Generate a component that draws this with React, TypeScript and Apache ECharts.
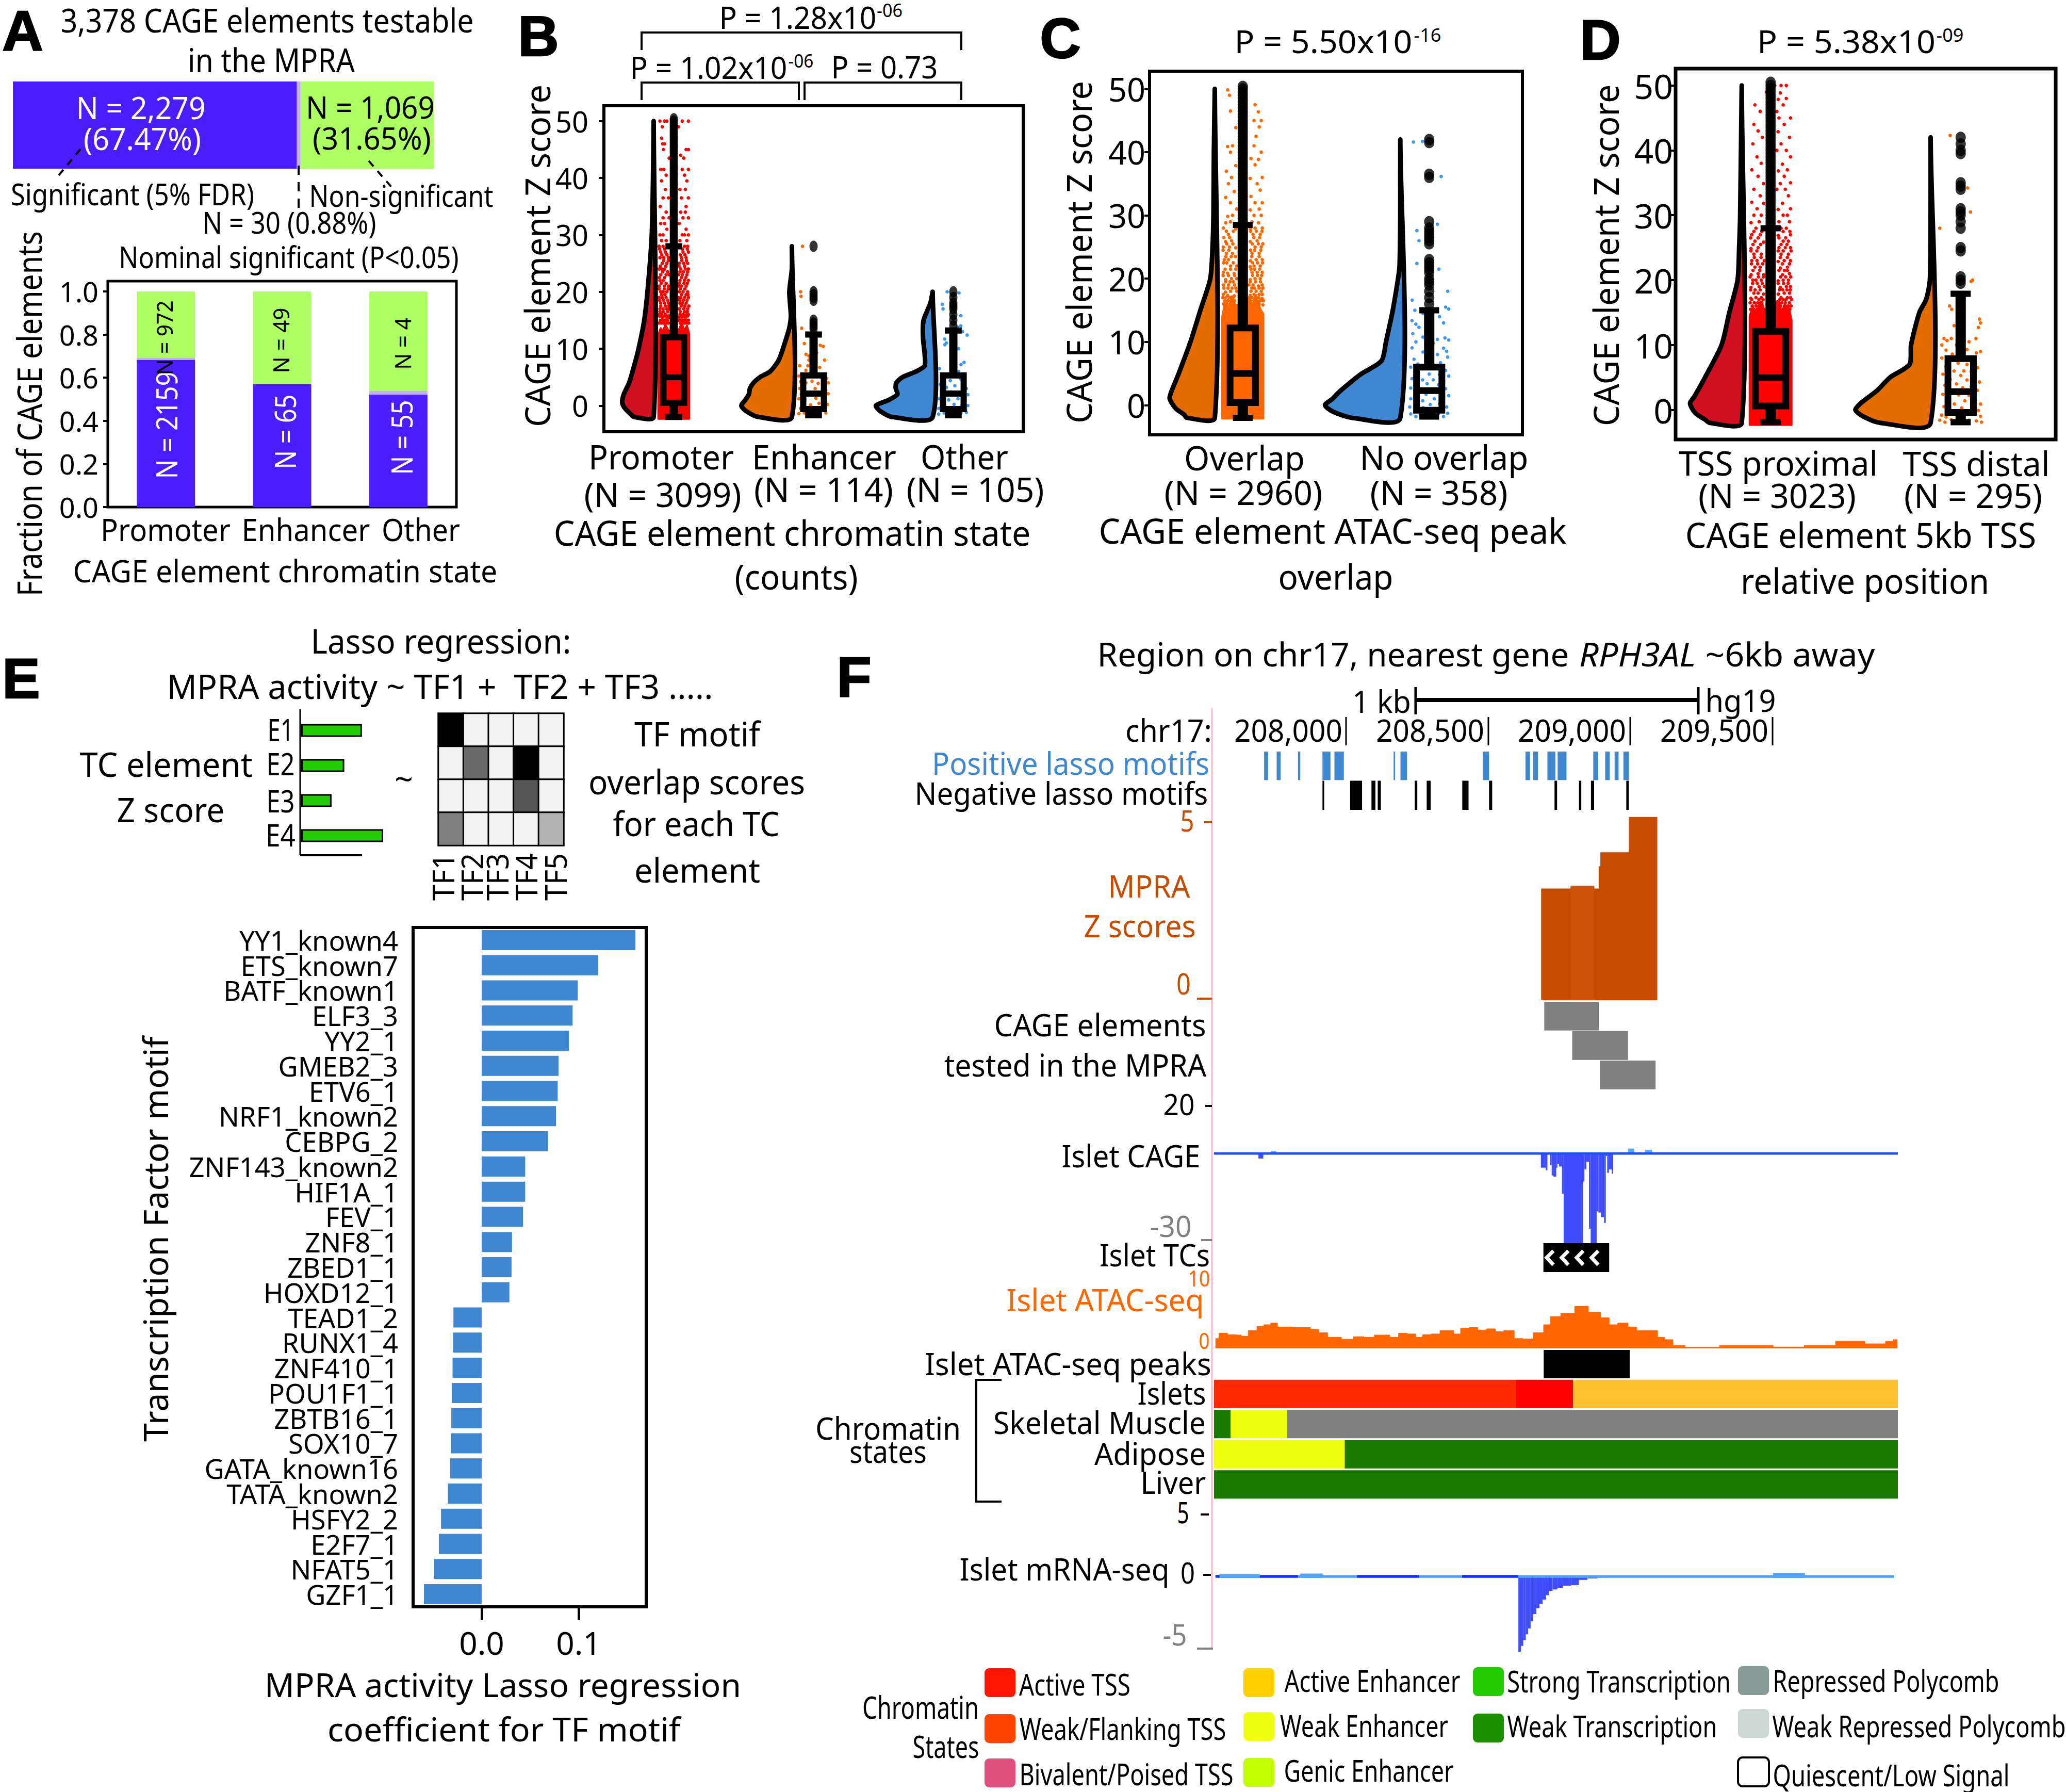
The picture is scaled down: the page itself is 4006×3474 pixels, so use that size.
import React, { useEffect, useRef } from "react";
import * as echarts from "echarts";

// ---------- data: panel A
const mpraTotals = [2279, 30, 1069];
const chromatinShort = ["Promoter", "Enhancer", "Other"];
const sigFraction = [0.683, 0.57, 0.522];
const nominalFraction = [0.01, 0.002, 0.018];
const nonSigFraction = [0.307, 0.428, 0.46];
const sigCounts = [2159, 65, 55];
const nonSigCounts = [972, 49, 4];
const fractionTicks = [0, 0.2, 0.4, 0.6, 0.8, 1];

// ---------- data: panels B, C, D
const zTicks = [0, 10, 20, 30, 40, 50];
const violinPromoter = [[50, 0], [40, 0.02], [30, 0.06], [21, 0.18], [15, 0.3], [10, 0.48], [7, 0.62], [4, 0.78], [2, 0.95], [0.5, 1], [-0.5, 0.91], [-1.5, 0.73], [-2, 0.62]];
const violinEnhancer = [[28, 0], [24, 0], [20, 0.05], [15.8, 0.02], [13.7, 0.05], [11, 0.14], [8, 0.26], [6, 0.43], [5, 0.63], [4, 0.76], [3, 0.83], [2, 0.85], [1, 0.92], [0, 1], [-1, 0.9], [-2, 0.66]];
const violinOther = [[20, 0], [18, 0.04], [15, 0.16], [12, 0.17], [9, 0.14], [7, 0.14], [6, 0.29], [5, 0.53], [4, 0.64], [3, 0.65], [2, 0.62], [1, 0.77], [0, 1], [-1, 0.92], [-2, 0.71]];
const violinOverlap = [[50, 0], [40, 0.02], [30, 0.03], [25, 0.05], [20, 0.1], [15, 0.32], [10, 0.54], [5, 0.8], [2, 0.97], [1, 1], [-0.5, 0.87], [-1.5, 0.68], [-2, 0.62]];
const violinNoOverlap = [[42, 0], [30, 0], [22, 0.01], [20, 0.03], [15, 0.1], [10, 0.19], [7, 0.25], [5, 0.51], [4, 0.62], [2, 0.82], [1, 0.9], [0, 1], [-1, 0.9], [-2, 0.64]];
const violinProximal = [[50, 0], [30, 0.03], [25, 0.05], [20, 0.08], [15, 0.24], [10, 0.39], [5, 0.71], [2, 0.92], [1, 1], [-0.5, 0.9], [-1.5, 0.71], [-2, 0.62]];
const violinDistal = [[42, 0], [30, 0], [20, 0.01], [17, 0.06], [15, 0.15], [10, 0.26], [7, 0.28], [5, 0.54], [3, 0.71], [1, 0.93], [0, 1], [-1, 0.9], [-2, 0.67]];

// [category, min, q1, median, q3, max]
const boxesB = [[0, -2, 0.5, 5, 12, 28], [1, -1.7, -0.6, 2.1, 5.3, 12.5], [2, -1.7, -0.6, 2.1, 5.3, 13.2]];
const boxesC = [[0, -2, 0.4, 5, 12.2, 28.5], [1, -1.8, -0.8, 2.3, 6, 15]];
const boxesD = [[0, -1.9, 0.6, 5, 12.1, 28], [1, -1.9, -0.4, 2.8, 7.9, 17.9]];

const outPromoter = [28, 28.5, 29, 29.5, 30, 30.5, 31, 31.5, 32, 32.5, 33, 33.5, 34, 34.5, 35, 35.5, 36, 36.5, 37, 37.5, 38, 38.5, 39, 39.5, 40, 40.5, 41, 41.5, 42, 42.5, 43, 43.5, 44, 44.5, 45, 45.5, 46, 46.5, 47, 47.5, 48, 48.5, 49, 49.5, 50, 50.4];
const outEnhancer = [28, 20, 19.5, 19, 18.5, 15, 14.5, 14, 13.5];
const outOther = [20, 19, 18, 17.5, 17, 16, 15, 14];
const outOverlap = [29, 29.5, 30, 30.5, 31, 31.5, 32, 32.5, 33, 33.5, 34, 34.5, 35, 35.5, 36, 36.5, 37, 37.5, 38, 38.5, 39, 39.5, 40, 40.5, 41, 41.5, 42, 42.5, 43, 43.5, 44, 44.5, 45, 45.5, 46, 46.5, 47, 47.5, 48, 48.5, 49, 49.5, 50, 50.4];
const outNoOverlap = [42, 41.5, 36.5, 36, 29, 28, 27.5, 27, 26.5, 26, 25.5, 23, 22.5, 22, 21.5, 21, 20, 19.5, 19, 18, 17, 16];
const outProximal = [28.5, 29, 29.5, 30, 30.5, 31, 31.5, 32, 32.5, 33, 33.5, 34, 34.5, 35, 35.5, 36, 36.5, 37, 37.5, 38, 38.5, 39, 39.5, 40, 40.5, 41, 41.5, 42, 42.5, 43, 43.5, 44, 44.5, 45, 45.5, 46, 46.5, 47, 47.5, 48, 48.5, 49, 49.5, 50, 50.5];
const outDistal = [42, 41, 40, 39.5, 35, 34.5, 34, 31, 30.5, 30, 29, 28, 25, 24.5, 20.5, 20, 19.5];

// dense lower part of each jitter cloud: bottom z, then the irregular top edge as [offset, z]
const densePromoterLow = -2.3;
const densePromoterTop = [[-1, 12.5], [-0.85, 13.6], [-0.7, 13], [-0.55, 14.2], [-0.35, 13.2], [0, 13], [0.35, 13.4], [0.5, 14.5], [0.7, 13.2], [0.85, 14], [1, 12.6]];
const denseOverlapLow = -2.1;
const denseOverlapTop = [[-1, 14], [-0.85, 16.5], [-0.7, 15], [-0.55, 17.2], [-0.35, 15.8], [0, 16], [0.3, 17], [0.5, 15.4], [0.65, 17.4], [0.85, 15.2], [1, 14.4]];
const denseProximalLow = -2.3;
const denseProximalTop = [[-1, 14.5], [-0.85, 15.8], [-0.68, 14.8], [-0.5, 16.6], [-0.32, 15.2], [0, 15.5], [0.32, 16.8], [0.52, 15], [0.7, 16.2], [0.88, 15.6], [1, 13.8]];

// sparse jitter rows: [z, offsets]
const rowsPromoter: [number, number[]][] = [[50, [-0.9, -0.6, -0.45, 0.55, 0.95]], [49, [-0.75, 0.3]], [47, [-0.8]], [46, [-0.72, -0.6]], [45, [-0.68, 0.8, 0.95]], [44, [0.45]], [43.5, [0.65, -0.3]], [41.5, [-0.85, -0.65, 0.55, 0.95]], [40.5, [-0.5, 0.7]], [39.5, [-0.8, 0.85]], [38, [-0.55, 0.4, 0.75]], [36.5, [-0.35, -0.7, 0.95, 0.5]], [35, [-0.88, 0.8]], [34, [-0.5, 0.45, 0.75]], [33, [-0.7, -0.3, 0.6, 0.95]], [32, [-0.85, -0.6, 0.35]], [31, [-0.45, 0.8]], [30, [-0.9, -0.7, 0.55, 0.7, 0.95]], [29, [-0.8, -0.5, 0.4, 0.85]], [28, [-0.95, -0.7, -0.3, 0.7, 0.9, 0.45]], [27, [-0.85, -0.55, 0.6, 0.95]], [26, [-0.9, -0.65, -0.35, 0.5, 0.8]], [25, [-0.75, -0.45, 0.65, 0.9, 0.35]], [24, [-0.95, -0.8, -0.6, 0.45, 0.75, 0.95]], [23, [-0.85, -0.5, -0.3, 0.55, 0.85, 0.3]], [22, [-0.9, -0.7, 0.4, 0.7, 0.95]], [21, [-0.95, -0.6, -0.35, 0.5, 0.8, 0.3]], [20, [-0.85, -0.7, -0.45, 0.6, 0.9, 0.35]], [19, [-0.95, -0.75, -0.5, 0.45, 0.7, 0.95, 0.3]], [18, [-0.85, -0.6, -0.35, 0.55, 0.8, 0.4]], [17, [-0.9, -0.7, -0.45, -0.3, 0.35, 0.65, 0.9]], [16, [-0.95, -0.8, -0.55, 0.4, 0.6, 0.85, 0.95]], [15.5, [-0.75, -0.45, -0.3, 0.5, 0.75, 0.3]],
  [14.5, [-0.96, -0.8, -0.66, -0.5, -0.36, 0.42, 0.56, 0.7, 0.84, 0.97]], [15, [-0.88, -0.72, -0.58, -0.42, 0.32, 0.5, 0.66, 0.82, 0.95]], [15.75, [-0.94, -0.82, -0.64, -0.48, -0.34, 0.44, 0.6, 0.74, 0.9]], [16.5, [-0.9, -0.68, -0.4, 0.42, 0.7, 0.88]], [17.5, [-0.85, -0.55, -0.32, 0.48, 0.72, 0.98]], [18.5, [-0.92, -0.66, -0.4, 0.38, 0.62, 0.86]], [19.5, [-0.8, -0.58, 0.5, 0.8, 0.92]], [20.5, [-0.95, -0.62, -0.36, 0.42, 0.72]], [21.5, [-0.82, -0.5, 0.36, 0.66, 0.88]], [22.5, [-0.94, -0.6, 0.5, 0.78]], [23.5, [-0.72, -0.4, 0.4, 0.62, 0.9]], [24.5, [-0.88, -0.52, 0.34, 0.7]], [25.5, [-0.66, -0.36, 0.52, 0.82]], [26.5, [-0.78, -0.44, 0.42, 0.72]], [27.5, [-0.92, -0.6, 0.55, 0.88]]];
const rowsOverlap: [number, number[]][] = [[50, [-0.75]], [49, [-0.65]], [47.5, [0.6]], [46.5, [-0.6, 0.75]], [45, [0.55, 0.9]], [44, [-0.35, 0.8]], [42.5, [0.65]], [41, [-0.75, -0.5, 0.55]], [40, [-0.6, 0.9]], [39, [0.4, 0.75]], [38, [-0.35, 0.6]], [37, [-0.8]], [36, [-0.55, 0.95, 0.35]], [35, [0.7, -0.7]], [34, [-0.45, 0.85]], [33, [-0.85, 0.4]], [32, [-0.6, 0.6, 0.95]], [31, [0.35, 0.8, -0.3]], [30, [-0.75, -0.5, 0.55, 0.9]], [29, [-0.85, -0.6, 0.45, 0.75]], [28, [-0.95, -0.35, 0.6, 0.95, 0.35]], [27, [-0.7, 0.5, 0.85]], [26, [-0.85, -0.55, 0.35, 0.7]], [25, [-0.95, -0.65, -0.35, 0.6, 0.9]], [24, [-0.8, -0.5, 0.45, 0.8]], [23, [-0.9, -0.7, 0.35, 0.65, 0.95]], [22, [-0.6, -0.3, 0.55, 0.85, 0.35]], [21, [-0.95, -0.75, -0.45, 0.45, 0.7, 0.95]], [20, [-0.85, -0.55, -0.3, 0.35, 0.6, 0.85]], [19, [-0.95, -0.7, -0.4, 0.5, 0.75, 0.95, 0.3]], [18, [-0.85, -0.6, -0.3, 0.4, 0.65, 0.9]], [17.5, [-0.95, -0.75, -0.45, 0.35, 0.55, 0.8, 0.95]],
  [16, [-0.94, -0.76, -0.6, -0.44, 0.3, 0.48, 0.64, 0.8, 0.97]], [16.5, [-0.88, -0.72, -0.56, -0.4, 0.36, 0.54, 0.7, 0.86, 1]], [17, [-0.98, -0.82, -0.64, -0.48, 0.32, 0.46, 0.62, 0.78, 0.93]], [18.5, [-0.92, -0.72, -0.52, -0.34, 0.44, 0.58, 0.8, 0.98]], [19.5, [-0.84, -0.62, -0.46, 0.36, 0.62, 0.86]], [20.5, [-0.96, -0.7, -0.4, 0.48, 0.72, 0.92]], [21.5, [-0.86, -0.6, -0.34, 0.4, 0.58, 0.82]], [22.5, [-0.94, -0.78, -0.46, 0.48, 0.72, 0.96]], [23.5, [-0.82, -0.56, -0.36, 0.44, 0.8]], [24.5, [-0.96, -0.68, 0.38, 0.58, 0.88]], [25.5, [-0.78, -0.48, 0.46, 0.76, 0.98]], [26.5, [-0.92, -0.64, 0.54, 0.82]], [27.5, [-0.8, -0.46, 0.38, 0.66, 0.94]]];
const rowsProximal: [number, number[]][] = [[50, [0.2, 0.5, 0.75]], [49, [-0.2, 0.45]], [48, [0.75, 0.35]], [47, [-0.75, 0.6]], [46, [-0.5, 0.3]], [45, [0.95, 0.4]], [44, [-0.8, 0.65]], [43, [-0.6, 0.35]], [42, [0.9, -0.4]], [41, [-0.85, 0.5]], [40, [0.3, 0.75]], [39, [-0.65, 0.95]], [38, [-0.45, 0.55]], [37, [-0.9, 0.35, 0.8]], [36, [-0.6, 0.65]], [35, [-0.35, 0.95, 0.45]], [34, [-0.8, 0.3, 0.7]], [33, [-0.5, 0.85]], [32, [-0.9, -0.35, 0.55]], [31, [-0.65, 0.35, 0.95]], [30, [-0.8, -0.45, 0.6, 0.8]], [29, [-0.95, -0.55, 0.4, 0.9]], [28, [-0.7, -0.3, 0.5, 0.75]], [27, [-0.9, -0.5, 0.35, 0.95]], [26, [-0.75, -0.35, 0.6, 0.85]], [25, [-0.95, -0.6, 0.4, 0.7, 0.95]], [24, [-0.8, -0.45, 0.5, 0.85]], [23, [-0.9, -0.65, -0.3, 0.35, 0.65, 0.95]], [22, [-0.75, -0.5, 0.45, 0.8]], [21, [-0.95, -0.6, -0.35, 0.55, 0.9]], [20, [-0.85, -0.7, -0.45, 0.35, 0.6, 0.85]], [19, [-0.95, -0.55, -0.3, 0.45, 0.75, 0.95]], [18, [-0.8, -0.6, -0.35, 0.35, 0.65, 0.9]], [17.3, [-0.95, -0.7, -0.45, 0.5, 0.8, 0.95]],
  [15.5, [-0.96, -0.82, -0.66, -0.48, -0.32, 0.42, 0.58, 0.76, 0.92]], [16, [-0.88, -0.7, -0.54, -0.38, 0.32, 0.48, 0.66, 0.84, 0.98]], [16.5, [-0.98, -0.78, -0.62, -0.42, 0.38, 0.54, 0.7, 0.9]], [17, [-0.9, -0.56, -0.36, 0.44, 0.6, 0.74, 1]], [18.5, [-0.96, -0.74, -0.5, 0.42, 0.58, 0.78, 0.94]], [19.5, [-0.86, -0.64, -0.4, 0.36, 0.62, 0.84]], [20.5, [-0.98, -0.58, -0.34, 0.48, 0.72, 0.96]], [21.5, [-0.84, -0.52, 0.4, 0.66, 0.8]], [22.5, [-0.92, -0.62, -0.38, 0.56, 0.9]], [23.5, [-0.78, -0.46, 0.46, 0.8]], [24.5, [-0.94, -0.66, 0.36, 0.6, 0.98]], [25.5, [-0.84, -0.48, 0.5, 0.78]], [26.5, [-0.96, -0.6, 0.4, 0.72]], [27.5, [-0.8, -0.42, 0.6, 0.92]]];
// [offset, z]
const dotsEnhancer = [[-0.72, 28], [-0.84, 20], [-0.81, 19.2], [-0.77, 13.6], [-0.6, 10.9], [-0.49, 9], [-0.3, 8.7], [-0.3, 8], [-0.37, 7], [-0.9, 7], [0.63, 10.4], [0.44, 10.6], [0.72, 8], [0.2, 9.3], [-0.5, 6.2], [0.4, 6.7], [-0.95, 5.2], [-0.7, 5], [-0.2, 5.3], [0.5, 5], [0.85, 4.8], [-0.85, 4.2], [-0.5, 4], [-0.1, 4.3], [0.3, 3.9], [0.95, 4], [-0.9, 3], [-0.6, 3.2], [0.1, 3], [0.6, 3.3], [0.8, 2.7], [-0.8, 2], [-0.3, 2.2], [0.4, 2], [0.95, 2.1], [-0.95, 1.2], [-0.55, 1], [0.15, 1.3], [0.7, 0.9], [-0.7, 0.2], [-0.2, 0.1], [0.35, 0.4], [0.9, 0.2], [-0.85, -0.5], [-0.45, -0.7], [0.05, -0.6], [0.55, -0.4], [-0.95, -1.4], [-0.6, -1.3], [-0.15, -1.5], [0.3, -1.2], [0.8, -1.3], [0.1, -1.9], [-0.35, -1.9]];
const dotsOther = [[-0.72, 17.8], [-0.4, 20], [0.37, 19.8], [-0.67, 17], [0.49, 15.8], [-0.56, 11.7], [0.49, 14], [0.9, 12.4], [0.26, 13.8], [0.6, 13], [-0.56, 10.7], [-0.45, 11], [0.35, 10], [0.7, 7.6], [0.5, 7.2], [-0.9, 6.5], [0.35, 6], [-0.3, 5.5], [0.2, 5.3], [-0.6, 4.6], [-0.2, 4.4], [0.5, 4.6], [0.75, 4.2], [-0.85, 3.7], [-0.45, 3.2], [0.1, 3.5], [0.85, 3], [-0.7, 2.3], [-0.15, 2.4], [0.4, 2.1], [0.95, 1.9], [-0.9, 1.2], [-0.3, 1], [0.3, 1.2], [0.7, 0.8], [-0.65, 0.3], [0.05, 0.2], [0.55, 0.1], [0.95, 0], [-0.95, -0.5], [-0.4, -0.6], [0.3, -0.4], [0.8, -0.7], [-0.95, -1.5], [-0.6, -1.3], [-0.2, -1.5], [0.5, -1.3], [0.85, -1.2], [0.15, -1.6]];
const dotsNoOverlap = [[-0.77, 41.6], [-0.33, 41.7], [0.57, 36.3], [0.4, 28.6], [-0.6, 27.6], [-0.5, 26], [-0.6, 22.4], [0.47, 21.5], [-0.1, 20.2], [0.9, 18], [-0.83, 16.6], [0.8, 15.5], [0.95, 15.2], [-0.7, 15], [-0.3, 14.5], [0.5, 14], [-0.85, 13.5], [-0.65, 12.8], [0.7, 13], [-0.5, 12.3], [0.1, 12], [-0.8, 11.3], [-0.35, 11], [0.75, 10.8], [0.4, 10.4], [0.95, 10.3], [-0.65, 10], [0.2, 9.8], [-0.85, 9.2], [0.7, 9], [0.85, 8.5], [-0.3, 8.4], [0.4, 8], [0.9, 7.6], [-0.75, 7.4], [0.1, 7], [0.55, 6.7], [-0.55, 6.5], [-0.9, 6], [-0.2, 5.8], [0.3, 5.8], [0.8, 5.5], [-0.6, 5], [0, 4.9], [0.5, 4.8], [0.95, 4.6], [-0.85, 4.3], [-0.35, 4.2], [0.2, 4], [0.7, 3.8], [-0.65, 3.3], [-0.1, 3.4], [0.45, 3.2], [-0.9, 2.7], [-0.4, 2.5], [0.15, 2.5], [0.8, 2.6], [-0.7, 1.8], [-0.15, 1.7], [0.55, 1.7], [0.95, 1.5], [-0.9, 1], [-0.35, 0.9], [0.25, 1], [0.7, 0.8], [-0.6, 0.2], [0.05, 0.1], [0.5, 0.2], [-0.95, -0.3], [-0.3, -0.4], [0.85, -0.3], [-0.7, -0.9], [0.2, -0.8], [0.65, -1], [-0.9, -1.4], [-0.45, -1.3], [0, -1.5], [0.45, -1.4], [0.9, -1.3], [-0.65, -1.8], [0.7, -1.8]];
const dotsDistal = [[-0.5, 42.3], [0.33, 34.2], [0.47, 30.5], [-1, 28], [0.57, 20], [0.5, 19.8], [-0.53, 16], [-0.43, 15.5], [0.07, 15.2], [0.9, 14], [0.95, 13.4], [-0.35, 13.2], [0.85, 12.7], [-0.8, 11], [-0.45, 11], [-0.65, 10.7], [0.73, 11], [0.4, 10.5], [-0.9, 10], [-0.2, 10], [0.95, 9], [-0.7, 9.2], [0.3, 9.3], [0.75, 8.8], [-0.4, 8.6], [-0.9, 8], [0.1, 8], [0.6, 7.7], [-0.15, 7.4], [0.3, 7], [-0.7, 6.6], [0.8, 6.5], [-0.35, 6.2], [0.15, 6], [0.5, 5.9], [-0.85, 5.5], [0, 5.3], [0.65, 5], [-0.5, 4.7], [0.3, 4.6], [0.9, 4.3], [-0.2, 4], [-0.75, 3.8], [0.5, 3.6], [0.1, 3.4], [-0.45, 3], [0.8, 3], [-0.85, 2.4], [-0.1, 2.3], [0.4, 2.2], [-0.6, 1.6], [0.2, 1.4], [0.7, 1.5], [-0.3, 0.9], [0.55, 0.7], [0.95, 0.9], [-0.8, 0.5], [0.05, 0.3], [-0.5, -0.1], [0.35, -0.2], [0.85, -0.1], [-0.95, -0.6], [-0.2, -0.7], [0.6, -0.6], [-0.7, -1.1], [0.15, -1.1], [0.95, -1], [-1, -1.6], [-0.45, -1.5], [0.4, -1.6], [0.75, -1.7], [-0.75, -1.9], [0.1, -1.9], [1, -1.9]];

// ---------- data: panel E
const elementNames = ["E1", "E2", "E3", "E4"];
const elementZ = [1, 0.71, 0.5, 1.35];
const tfNames = ["TF1", "TF2", "TF3", "TF4", "TF5"];
const overlapScores = [
  [1, 0, 0, 0, 0],
  [0, 0.56, 0, 1, 0],
  [0, 0, 0, 0.65, 0],
  [0.47, 0, 0, 0, 0.26],
];
const motifNames = ["YY1_known4", "ETS_known7", "BATF_known1", "ELF3_3", "YY2_1", "GMEB2_3", "ETV6_1", "NRF1_known2", "CEBPG_2", "ZNF143_known2", "HIF1A_1", "FEV_1", "ZNF8_1", "ZBED1_1", "HOXD12_1", "TEAD1_2", "RUNX1_4", "ZNF410_1", "POU1F1_1", "ZBTB16_1", "SOX10_7", "GATA_known16", "TATA_known2", "HSFY2_2", "E2F7_1", "NFAT5_1", "GZF1_1"];
const motifCoef = [0.1586, 0.1203, 0.0991, 0.0938, 0.0899, 0.0793, 0.0784, 0.0767, 0.0683, 0.0449, 0.0449, 0.0427, 0.0313, 0.0308, 0.0286, -0.0291, -0.0295, -0.03, -0.0308, -0.0313, -0.0317, -0.0326, -0.0348, -0.0419, -0.0441, -0.0489, -0.0595];
const coefTicks = [0, 0.1];

// ---------- data: panel F (genomic positions on chr17)
const coordLabels = ["208,000", "208,500", "209,000", "209,500"];
const positiveMotifs = [[207712, 207726], [207756, 207770], [207831, 207839], [207917, 207945], [207959, 207992], [208167, 208172], [208191, 208214], [208480, 208502], [208630, 208646], [208657, 208674], [208707, 208735], [208743, 208774], [208868, 208885], [208910, 208926], [208943, 208957], [208974, 208993]];
const negativeMotifs = [[207917, 207923], [208014, 208056], [208089, 208103], [208111, 208122], [208241, 208250], [208283, 208297], [208408, 208430], [208502, 208513], [208732, 208741], [208818, 208826], [208860, 208871], [208984, 208993]];
const mpraScores = [[208685, 208790, 3.17], [208788, 208872, 3.25], [208870, 208890, 3.17], [208887, 208895, 3.8], [208893, 208995, 4.2], [208993, 209093, 5.2]];
const cageElements = [[208696, 208888, 2], [208794, 208990, 1], [208891, 209087, 0]];
const islandCageNeg = [[207692, 207709, -1.75], [208684, 208701, -4.9], [208701, 208707, -5.8], [208707, 208716, -0.3], [208716, 208722, -4], [208722, 208728, -7.6], [208728, 208738, -8], [208738, 208742, -4.9], [208742, 208748, -3.7], [208748, 208758, -4.5], [208758, 208764, -13.9], [208764, 208832, -31], [208832, 208837, -9.7], [208837, 208844, -5.5], [208844, 208853, -2.9], [208853, 208859, -26], [208859, 208880, -31], [208880, 208886, -20], [208886, 208895, -20.4], [208895, 208906, -22], [208906, 208912, -24], [208912, 208917, -0.9], [208917, 208923, -6.7], [208923, 208933, -5.5], [208933, 208938, -7]];
const islandCagePos = [[207735, 207755, 0.8], [208990, 209012, 1.7], [209050, 209075, 1.3]];
const islandTc = [[208693, 208924]];
const atacPositions = [207541, 207565, 207602, 207626, 207638, 207674, 207699, 207723, 207747, 207771, 207856, 207893, 207917, 207953, 208014, 208038, 208087, 208111, 208135, 208172, 208196, 208232, 208257, 208281, 208317, 208342, 208366, 208390, 208414, 208451, 208475, 208512, 208536, 208572, 208609, 208633, 208681, 208706, 208730, 208778, 208827, 208875, 208912, 208936, 208972, 209009, 209033, 209082, 209106, 209130, 209166, 209215, 209409, 209591, 209628, 209810, 209834, 209882, 209907, 209936];
const atacValues = [1.33, 2.05, 1.86, 1.8, 1.64, 2.42, 2.98, 3.19, 3.41, 2.88, 2.82, 2.57, 2.11, 1.49, 1.24, 1.58, 1.49, 1.8, 1.8, 1.49, 2.05, 1.95, 1.49, 1.86, 1.95, 2.42, 2.42, 1.95, 2.73, 2.82, 2.48, 2.64, 2.26, 2.42, 1.33, 1.27, 2.11, 3.19, 4.28, 4.74, 5.67, 4.9, 4.12, 3.19, 3.41, 2.88, 2.42, 2.42, 1.49, 1.18, 0.4, 0.16, 0.4, 0.19, 0.4, 0.96, 0.62, 0.62, 0.93, 1.18];
const atacPeaks = [[208694, 208996]];
const chromatinSegments: [number, number, number, string][] = [
  [3, 207536, 208596, "Weak/Flanking TSS"], [3, 208596, 208797, "Active TSS"], [3, 208797, 209938, "Islet Enhancer"],
  [2, 207536, 207594, "Track Transcription"], [2, 207594, 207793, "Weak Enhancer"], [2, 207793, 209938, "Track Quiescent"],
  [1, 207536, 207995, "Weak Enhancer"], [1, 207995, 209938, "Track Transcription"],
  [0, 207536, 209938, "Track Transcription"],
];
const mrnaNeg = [[208605, 208614, -5.2], [208614, 208622, -4.8], [208622, 208631, -4.4], [208631, 208639, -4], [208639, 208648, -3.6], [208648, 208656, -3.1], [208656, 208668, -2.6], [208668, 208679, -2.2], [208679, 208690, -1.9], [208690, 208702, -1.6], [208702, 208713, -1.3], [208713, 208725, -1], [208725, 208742, -0.9], [208742, 208761, -0.8], [208761, 208790, -0.64], [208790, 208818, -0.6], [208818, 208847, -0.24], [208847, 208883, -0.14], [208883, 208917, -0.08]];
const mrnaDark = [[207541, 207831], [208038, 208256], [208407, 208605]];
const mrnaLight = [[207555, 207697, 0.15], [207831, 208038, 0.1], [207839, 207918, 0.2], [208256, 208407, 0.1], [208605, 209925, 0.1], [209499, 209612, 0.22]];
const legendNames = ["Active TSS", "Weak/Flanking TSS", "Bivalent/Poised TSS", "Active Enhancer", "Weak Enhancer", "Genic Enhancer", "Strong Transcription", "Weak Transcription", "Repressed Polycomb", "Weak Repressed Polycomb", "Quiescent/Low Signal"];
const legendColors = ["#FF1500", "#FF4500", "#E0507F", "#FFD000", "#F0FF10", "#C0FF00", "#22CC00", "#1A9000", "#8A9A98", "#CBD8D4", "#FFFFFF"];

// ---------- styles
const FONT = '"Noto Sans", "Open Sans", sans-serif';
const BLUE = "#4A1DFF";
const LILAC = "#C4B0F0";
const LIME = "#ADFF63";
const V_RED = "#D01020";
const V_ORANGE = "#E46C00";
const V_BLUE = "#3F87D0";
const D_RED = "#FF0000";
const D_ORANGE = "#FF6600";
const D_BLUE = "#3F97F0";
const MPRA_COL = "#C84C00";
const stateColors: Record<string, string> = {
  "Active TSS": "#FF0000",
  "Weak/Flanking TSS": "#FF2A00",
  "Islet Enhancer": "#FFC030",
  "Weak Enhancer": "#F0FF10",
  "Track Transcription": "#1A7A00",
  "Track Quiescent": "#808080",
};

const measureCtx = document.createElement("canvas").getContext("2d") as CanvasRenderingContext2D;

function T(text: string, cx: number, cy: number, size: number, width?: number, o: any = {}) {
  const fam = o.family || FONT;
  measureCtx.font = `${o.italic ? "italic " : ""}${o.weight || "normal"} ${size}px ${fam}`;
  const m = measureCtx.measureText(text).width;
  return {
    type: "text",
    x: cx,
    y: o.rot ? cy : cy - 2,
    rotation: o.rot || 0,
    scaleX: width ? width / m : 1,
    z: 60,
    silent: true,
    style: {
      text,
      fontSize: size,
      fontFamily: fam,
      fontWeight: o.weight || "normal",
      fontStyle: o.italic ? "italic" : "normal",
      fill: o.fill || "#000",
      stroke: o.stroke,
      lineWidth: o.stroke ? 2.5 : 0,
      align: "center",
      verticalAlign: "middle",
    },
  };
}
function L(x1: number, y1: number, x2: number, y2: number, stroke = "#000", lineWidth = 4, dash?: number[]) {
  return { type: "line", z: 55, silent: true, shape: { x1, y1, x2, y2 }, style: { stroke, lineWidth, lineDash: dash } };
}
function P(points: number[][], stroke = "#000", lineWidth = 4) {
  return { type: "polyline", z: 55, silent: true, shape: { points }, style: { stroke, lineWidth, fill: "none" } };
}

function buildOption() {
  const grid: any[] = [];
  const xAxis: any[] = [];
  const yAxis: any[] = [];
  const series: any[] = [];
  const addGrid = (g: any, x: any, y: any) => {
    grid.push({ containLabel: false, ...g });
    xAxis.push({ gridIndex: grid.length - 1, ...x });
    yAxis.push({ gridIndex: grid.length - 1, ...y });
    return grid.length - 1;
  };
  const frame = (lw: number) => ({ show: true, borderColor: "#000", borderWidth: lw, backgroundColor: "transparent" });

  // ---- A: top stacked bar
  const gTop = addGrid({ left: 25, top: 158, width: 816, height: 169 }, { type: "value", min: 0, max: 3378, show: false }, { type: "category", data: ["CAGE"], show: false });
  [BLUE, LILAC, LIME].forEach((color, i) =>
    series.push({ type: "bar", xAxisIndex: gTop, yAxisIndex: gTop, stack: "t", barWidth: "100%", data: [mpraTotals[i]], itemStyle: { color }, silent: true })
  );

  // ---- A: fraction bars
  const gFrac = addGrid(
    { left: 209, top: 545, width: 676, height: 438, ...frame(5) },
    { type: "category", data: chromatinShort, axisLabel: { show: false }, axisLine: { show: false }, axisTick: { alignWithLabel: true, length: 8, lineStyle: { width: 4, color: "#000" } } },
    { type: "value", min: 0, max: 1.048, splitLine: { show: false }, axisLine: { show: false }, axisTick: { show: true, length: 9, customValues: fractionTicks, lineStyle: { width: 4, color: "#000" } }, axisLabel: { customValues: fractionTicks, formatter: (v: number) => v.toFixed(1), fontSize: 54, fontFamily: FONT, color: "#000", margin: 18 } }
  );
  [[sigFraction, BLUE], [nominalFraction, LILAC], [nonSigFraction, LIME]].forEach(([data, color]: any) =>
    series.push({ type: "bar", xAxisIndex: gFrac, yAxisIndex: gFrac, stack: "f", barWidth: 113, data, itemStyle: { color }, silent: true })
  );

  // ---- B, C, D: raincloud helpers
  const JITTER = 0.11;
  const zAxis = (fontSize: number, margin: number, min: number, max: number) => ({
    type: "value",
    min,
    max,
    splitLine: { show: false },
    axisLine: { show: false, onZero: false },
    axisTick: { show: true, length: 10, customValues: zTicks, lineStyle: { width: 4, color: "#000" } },
    axisLabel: { customValues: zTicks, fontSize, fontFamily: FONT, color: "#000", margin },
  });
  const catAxis = (data: string[]) => ({
    type: "category",
    data,
    axisLabel: { show: false },
    axisLine: { show: false, onZero: false },
    axisTick: { alignWithLabel: true, length: 11, lineStyle: { width: 5, color: "#000" } },
  });
  const addCloud = (g: number, cat: number, c: any) => {
    const base = { xAxisIndex: g, yAxisIndex: g, coordinateSystem: "cartesian2d", silent: true };
    if (c.denseTop) {
      series.push({
        ...base, type: "custom", z: 3, itemStyle: { color: c.dotColor },
        data: [[cat, c.denseLow, c.denseTop[0][1]]], encode: { x: 0, y: [1, 2] },
        renderItem: (_p: any, api: any) => {
          const w = api.size([1, 1])[0] * JITTER;
          const cx = api.coord([api.value(0), 0])[0];
          const bottom = api.coord([api.value(0), api.value(1)])[1];
          const pts = c.denseTop.map(([o, z]: number[]) => [cx + o * w, api.coord([api.value(0), z])[1]]);
          pts.push([cx + w, bottom], [cx - w, bottom]);
          return { type: "polygon", shape: { points: pts }, style: { fill: api.visual("color"), stroke: api.visual("color"), lineWidth: 4, lineJoin: "round" } };
        },
      });
    }
    const flat: number[][] = [];
    (c.rows || []).forEach(([z, offs]: [number, number[]]) => offs.forEach((o) => flat.push([o, z])));
    (c.dots || []).forEach((d: number[]) => flat.push(d));
    series.push({
      ...base, type: "custom", z: 3, itemStyle: { color: c.dotColor },
      data: flat.map(([o, z]) => [cat, z, o]), encode: { x: 0, y: 1 },
      renderItem: (_p: any, api: any) => {
        const w = api.size([1, 1])[0] * JITTER;
        const pt = api.coord([api.value(0), api.value(1)]);
        return { type: "circle", shape: { cx: pt[0] + api.value(2) * w, cy: pt[1], r: c.r || 3.4 }, style: { fill: api.visual("color") } };
      },
    });
    series.push({
      ...base, type: "custom", z: 4, itemStyle: { color: c.fill },
      data: [[cat, c.violin[0][0], c.violin[0][1]]], encode: { x: 0, y: 1 },
      renderItem: (_p: any, api: any) => {
        const band = api.size([1, 1])[0];
        const x0 = api.coord([api.value(0), 0])[0] + c.flat * band;
        const maxW = c.maxW * band;
        const pts = c.violin.map(([z, d]: number[]) => [x0 - d * maxW, api.coord([api.value(0), z])[1]]);
        const last = c.violin[c.violin.length - 1][0];
        pts.push([x0, api.coord([api.value(0), last])[1]]);
        pts.push([x0, api.coord([api.value(0), c.violin[0][0]])[1]]);
        return { type: "polygon", shape: { points: pts, smooth: 0.25 }, style: { fill: api.visual("color"), stroke: "#000", lineWidth: 9, lineJoin: "round" } };
      },
    });
    series.push({ ...base, type: "scatter", z: 5, symbol: "circle", symbolSize: c.outSize, itemStyle: { color: "#000" }, data: c.out.map((v: number) => [cat, v]) });
  };
  const addBoxes = (g: number, boxes: number[][], halfW: number[], capW: number, whiskerW: number, boxLW: number) => {
    series.push({
      type: "custom", xAxisIndex: g, yAxisIndex: g, coordinateSystem: "cartesian2d", silent: true, z: 6,
      data: boxes, encode: { x: 0, y: [1, 2, 3, 4, 5] },
      renderItem: (p: any, api: any) => {
        const band = api.size([1, 1])[0];
        const cat = api.value(0);
        const y = (v: number) => api.coord([cat, v])[1];
        const cx = api.coord([cat, 0])[0];
        const hw = halfW[p.dataIndex] * band;
        const cw = capW * band;
        const stroke = { fill: "none", stroke: "#000" };
        return {
          type: "group",
          children: [
            { type: "line", shape: { x1: cx, y1: y(api.value(4)), x2: cx, y2: y(api.value(5)) }, style: { ...stroke, lineWidth: whiskerW } },
            { type: "line", shape: { x1: cx, y1: y(api.value(1)), x2: cx, y2: y(api.value(2)) }, style: { ...stroke, lineWidth: whiskerW } },
            { type: "line", shape: { x1: cx - cw, y1: y(api.value(5)), x2: cx + cw, y2: y(api.value(5)) }, style: { ...stroke, lineWidth: 12 } },
            { type: "line", shape: { x1: cx - cw, y1: y(api.value(1)), x2: cx + cw, y2: y(api.value(1)) }, style: { ...stroke, lineWidth: 12 } },
            { type: "rect", shape: { x: cx - hw, y: y(api.value(4)), width: 2 * hw, height: y(api.value(2)) - y(api.value(4)) }, style: { ...stroke, lineWidth: boxLW } },
            { type: "line", shape: { x1: cx - hw, y1: y(api.value(3)), x2: cx + hw, y2: y(api.value(3)) }, style: { ...stroke, lineWidth: boxLW } },
          ],
        };
      },
    });
  };

  // B
  const gB = addGrid({ left: 1171, top: 205, width: 813, height: 632, ...frame(6) }, catAxis(chromatinShort), zAxis(56, 30, -4.6, 52.7));
  addCloud(gB, 0, { fill: V_RED, dotColor: D_RED, denseLow: densePromoterLow, denseTop: densePromoterTop, rows: rowsPromoter, violin: violinPromoter, flat: -0.144, maxW: 0.225, out: outPromoter, outSize: [16, 22] });
  addCloud(gB, 1, { fill: V_ORANGE, dotColor: D_ORANGE, dots: dotsEnhancer, violin: violinEnhancer, flat: -0.155, maxW: 0.362, out: outEnhancer, outSize: [16, 22] });
  addCloud(gB, 2, { fill: V_BLUE, dotColor: D_BLUE, dots: dotsOther, violin: violinOther, flat: -0.148, maxW: 0.406, out: outOther, outSize: [16, 22] });
  addBoxes(gB, boxesB, [0.074, 0.074, 0.074], 0.06, 16, 12);

  // C
  const gC = addGrid({ left: 2229, top: 138, width: 723, height: 705, ...frame(6) }, catAxis(["Overlap", "No overlap"]), zAxis(63, 8, -4.7, 52.8));
  addCloud(gC, 0, { fill: V_ORANGE, dotColor: D_ORANGE, denseLow: denseOverlapLow, denseTop: denseOverlapTop, rows: rowsOverlap, violin: violinOverlap, flat: -0.15, maxW: 0.242, out: outOverlap, outSize: [20, 22] });
  addCloud(gC, 1, { fill: V_BLUE, dotColor: D_BLUE, dots: dotsNoOverlap, violin: violinNoOverlap, flat: -0.155, maxW: 0.404, out: outNoOverlap, outSize: [20, 22] });
  addBoxes(gC, boxesC, [0.068, 0.068], 0.053, 20, 13);

  // D
  const gD = addGrid({ left: 3249, top: 133, width: 737, height: 719, ...frame(7) }, catAxis(["TSS proximal", "TSS distal"]), zAxis(66, 5, -4.57, 52.6));
  addCloud(gD, 0, { fill: V_RED, dotColor: D_RED, denseLow: denseProximalLow, denseTop: denseProximalTop, rows: rowsProximal, violin: violinProximal, flat: -0.152, maxW: 0.272, out: outProximal, outSize: [20, 22] });
  addCloud(gD, 1, { fill: V_ORANGE, dotColor: D_ORANGE, dots: dotsDistal, violin: violinDistal, flat: -0.158, maxW: 0.396, out: outDistal, outSize: [20, 22] });
  addBoxes(gD, boxesD, [0.08, 0.067], 0.053, 20, 13);

  // ---- E: small bars
  const gEz = addGrid({ left: 584, top: 1382, width: 159, height: 272 }, { type: "value", min: 0, max: 1.35, show: false }, { type: "category", data: elementNames, inverse: true, show: false });
  series.push({ type: "bar", xAxisIndex: gEz, yAxisIndex: gEz, barWidth: 25, data: elementZ, silent: true, itemStyle: { color: "#22CC00", borderColor: "#000", borderWidth: 3 } });

  // ---- E: motif overlap heat map
  const gEh = addGrid({ left: 850, top: 1383, width: 243, height: 256 }, { type: "category", data: tfNames, show: false }, { type: "category", data: elementNames, inverse: true, show: false });
  const heatIndex = series.length;
  const heatData: number[][] = [];
  overlapScores.forEach((row, r) => row.forEach((v, c) => heatData.push([c, r, v])));
  series.push({ type: "heatmap", xAxisIndex: gEh, yAxisIndex: gEh, data: heatData, silent: true, itemStyle: { borderColor: "#000", borderWidth: 3 } });

  // ---- E: lasso coefficients
  const gE = addGrid(
    { left: 801, top: 1798, width: 452, height: 1317, ...frame(6) },
    { type: "value", min: -0.0707, max: 0.1697, splitLine: { show: false }, axisLine: { show: false, onZero: false }, axisTick: { show: true, length: 26, customValues: coefTicks, lineStyle: { width: 5, color: "#000" } }, axisLabel: { customValues: coefTicks, formatter: (v: number) => v.toFixed(1), fontSize: 62, fontFamily: FONT, color: "#000", margin: 38 } },
    { type: "category", data: motifNames, inverse: true, axisLine: { show: false, onZero: false }, axisTick: { alignWithLabel: true, length: 27, lineStyle: { width: 5, color: "#000" } }, axisLabel: { interval: 0, fontSize: 52.5, fontFamily: FONT, color: "#000", margin: 29 } }
  );
  series.push({ type: "bar", xAxisIndex: gE, yAxisIndex: gE, barWidth: 39, data: motifCoef, silent: true, itemStyle: { color: "#3F87D0" } });

  // ---- F: tracks
  const TX = { left: 2354, width: 1326 };
  const bpAxis = { type: "value", min: 207536, max: 209938, show: false };
  const yHidden = (min: number, max: number) => ({ type: "value", min, max, show: false });
  const rectItem = (_p: any, api: any) => {
    const a = api.coord([api.value(0), api.value(3)]);
    const b = api.coord([api.value(1), api.value(2)]);
    return { type: "rect", shape: { x: a[0], y: a[1], width: b[0] - a[0], height: b[1] - a[1] }, style: { fill: api.visual("color") } };
  };
  const track = (g: number, data: number[][], color: string, z = 3) =>
    series.push({ type: "custom", coordinateSystem: "cartesian2d", xAxisIndex: g, yAxisIndex: g, silent: true, z, data, encode: { x: [0, 1], y: [2, 3] }, itemStyle: { color }, renderItem: rectItem });

  const gMotif = addGrid({ ...TX, top: 1457, height: 113 }, bpAxis, yHidden(0, 2));
  track(gMotif, positiveMotifs.map(([s, e]) => [s, e, 1.02, 2]), "#3F87D0");
  track(gMotif, negativeMotifs.map(([s, e]) => [s, e, 0, 1]), "#000");

  const gMpra = addGrid({ ...TX, top: 1577, height: 362 }, bpAxis, yHidden(0, 5.3));
  mpraScores.forEach(([s, e, v], i) => track(gMpra, [[s, e, 0, v]], i === 1 ? "#CB5208" : MPRA_COL));

  const gElem = addGrid({ ...TX, top: 1942, height: 171 }, bpAxis, yHidden(0, 3));
  track(gElem, cageElements.map(([s, e, r]) => [s, e, r + 0.02, r + 1]), "#808080");

  const gCage = addGrid({ ...TX, top: 2144, height: 266 }, bpAxis, yHidden(-31, 16.43));
  track(gCage, islandCageNeg.map(([s, e, v]) => [s, e, v, 0]), "#3F4CFF", 3);
  track(gCage, islandCagePos.map(([s, e, v]) => [s, e, 0, v]), "#55AAFF", 3);
  track(gCage, [[207536, 209938, -0.4, 0.4]], "#1E50FF", 4);

  const gTc = addGrid({ ...TX, top: 2410, height: 56 }, bpAxis, yHidden(0, 1));
  track(gTc, islandTc.map(([s, e]) => [s, e, 0, 1]), "#000");

  const gAtac = addGrid({ ...TX, top: 2470, height: 144 }, bpAxis, yHidden(0, 10));
  series.push({ type: "line", step: "middle", xAxisIndex: gAtac, yAxisIndex: gAtac, symbol: "none", silent: true, lineStyle: { color: "#FF6600", width: 1 }, areaStyle: { color: "#FF6600", opacity: 1 }, data: atacPositions.map((p, i) => [p, atacValues[i]]) });

  const gPeak = addGrid({ ...TX, top: 2617, height: 55 }, bpAxis, yHidden(0, 1));
  track(gPeak, atacPeaks.map(([s, e]) => [s, e, 0, 1]), "#000");

  const gChrom = addGrid({ ...TX, top: 2673, height: 234 }, bpAxis, yHidden(0, 4));
  Object.keys(stateColors).forEach((state) => {
    const rows = chromatinSegments.filter((d) => d[3] === state).map((d) => [d[1], d[2], d[0] + 0.03, d[0] + 0.97]);
    if (rows.length) track(gChrom, rows, stateColors[state]);
  });

  const gMrna = addGrid({ ...TX, top: 3010, height: 192 }, bpAxis, yHidden(-5.2, 1.64));
  track(gMrna, mrnaNeg.map(([s, e, v]) => [s, e, v, 0]), "#3F4CFF");
  track(gMrna, mrnaDark.map(([s, e]) => [s, e, -0.1, 0.1]), "#1430FF", 4);
  track(gMrna, mrnaLight.map(([s, e, v]) => [s, e, -0.1, v]), "#55A5F5", 4);

  // ---- texts and annotation drawn in page coordinates
  const g: any[] = [];
  const letter = (t: string, x: number, y: number) => g.push(T(t, x, y, 110, undefined, { family: '"Liberation Sans", sans-serif', weight: "bold", stroke: "#000" }));
  const sup = (t: string, x: number, y: number, w: number) => g.push(T(t, x, y, 36, w));
  letter("A", 44, 60); letter("B", 1044, 71); letter("C", 2056, 75); letter("D", 3103, 78); letter("E", 41, 1316); letter("F", 1656, 1314);

  // A
  g.push(T("3,378 CAGE elements testable", 518, 41, 63, 801), T("in the MPRA", 526, 118, 63, 324));
  g.push(T("N = 2,279", 273, 209, 60, 251, { fill: "#fff" }), T("(67.47%)", 276, 269, 60, 228, { fill: "#fff" }));
  g.push(T("N = 1,069", 718, 209, 60, 250), T("(31.65%)", 721, 269, 60, 230));
  g.push(T("Significant (5% FDR)", 257, 378, 58, 472), T("Non-significant", 778, 380, 58, 357));
  g.push(T("N = 30 (0.88%)", 561, 433, 58, 337), T("Nominal significant (P<0.05)", 560, 500, 58, 659));
  g.push(L(156, 289, 108, 347, "#000", 4, [14, 12]), L(715, 312, 762, 366, "#000", 4, [14, 12]), L(579, 321, 579, 403, "#000", 4, [18, 14]));
  g.push(T(chromatinShort[0], 321, 1028, 60, 252), T(chromatinShort[1], 593, 1028, 60, 249), T(chromatinShort[2], 816, 1028, 60, 152));
  g.push(T("CAGE element chromatin state", 553, 1108, 60, 823));
  g.push(T("Fraction of CAGE elements", 55, 802, 66, 708, { rot: Math.PI / 2 }));
  [[322, 824, 209], [552, 837, 145], [778, 848, 145]].forEach(([x, y, w], i) => g.push(T(`N = ${sigCounts[i]}`, x, y, 56, w, { rot: Math.PI / 2, fill: "#fff" })));
  [[318, 655, 145], [544, 660, 127], [780, 666, 101]].forEach(([x, y, w], i) => g.push(T(`N = ${nonSigCounts[i]}`, x, y, 44, w, { rot: Math.PI / 2 })));

  // B
  g.push(T("P = 1.28x10", 1547, 34, 60, 305)); sup("-06", 1725, 21, 50);
  g.push(T("P = 1.02x10", 1374, 131, 60, 305)); sup("-06", 1553, 119, 49);
  g.push(T("P = 0.73", 1715, 131, 60, 207));
  g.push(P([[1244, 97], [1244, 63], [1864, 63], [1864, 97]]), P([[1244, 194], [1244, 160], [1549, 160], [1549, 194]]), P([[1560, 194], [1560, 160], [1864, 160], [1864, 194]]));
  g.push(T("CAGE element Z score", 1040, 496, 68, 664, { rot: Math.PI / 2 }));
  g.push(T(chromatinShort[0], 1282, 886, 66, 282), T("(N = 3099)", 1285, 959, 66, 305));
  g.push(T(chromatinShort[1], 1598, 886, 66, 280), T("(N = 114)", 1597, 949, 66, 270));
  g.push(T(chromatinShort[2], 1870, 886, 66, 170), T("(N = 105)", 1891, 949, 66, 267));
  g.push(T("CAGE element chromatin state", 1536, 1033, 68, 925), T("(counts)", 1544, 1119, 68, 239));

  // C
  g.push(T("P = 5.50x10", 2566, 81, 62, 345)); sup("-16", 2768, 69, 53);
  g.push(T("CAGE element Z score", 2090, 489, 68, 664, { rot: Math.PI / 2 }));
  g.push(T("Overlap", 2413, 888, 66, 234), T("(N = 2960)", 2411, 955, 66, 307));
  g.push(T("No overlap", 2800, 888, 66, 327), T("(N = 358)", 2790, 955, 66, 267));
  g.push(T("CAGE element ATAC-seq peak", 2584, 1030, 68, 907), T("overlap", 2590, 1119, 68, 223));

  // D
  g.push(T("P = 5.38x10", 3580, 81, 62, 346)); sup("-09", 3781, 69, 53);
  g.push(T("CAGE element Z score", 3112, 495, 68, 663, { rot: Math.PI / 2 }));
  g.push(T("TSS proximal", 3448, 899, 66, 386), T("(N = 3023)", 3446, 961, 66, 306));
  g.push(T("TSS distal", 3832, 899, 66, 285), T("(N = 295)", 3826, 961, 66, 268));
  g.push(T("CAGE element 5kb TSS", 3608, 1037, 68, 680), T("relative position", 3616, 1126, 68, 482));

  // E
  g.push(T("Lasso regression:", 855, 1244, 65, 505), T("MPRA activity ~ TF1 +  TF2 + TF3 .....", 853, 1332, 65, 1059));
  g.push(T("TC element", 322, 1483, 65, 335), T("Z score", 331, 1571, 65, 209));
  [[544, 1416, 51], [544, 1482, 55], [544, 1554, 55], [544, 1619, 58]].forEach(([x, y, w], i) => g.push(T(elementNames[i], x, y, 60, w)));
  g.push(L(582, 1375, 582, 1657, "#000", 3), L(582, 1658, 702, 1658, "#000", 4));
  g.push(T("~", 783, 1510, 64, 36));
  [[859, 92], [915, 92], [964, 92], [1020, 92], [1077, 92]].forEach(([x, w], i) => g.push(T(tfNames[i], x, 1700, 58, w, { rot: Math.PI / 2 })));
  g.push(T("TF motif", 1352, 1424, 65, 244), T("overlap scores", 1351, 1517, 65, 420), T("for each TC", 1350, 1598, 65, 323), T("element", 1352, 1688, 65, 244));
  g.push(T("Transcription Factor motif", 300, 2402, 66, 786, { rot: Math.PI / 2 }));
  g.push(T("MPRA activity Lasso regression", 975, 3267, 64, 924), T("coefficient for TF motif", 977, 3353, 64, 684));

  // F header
  g.push(T("Region on chr17, nearest gene", 2585, 1269, 64, 915), T("RPH3AL", 3175, 1269, 64, 226, { italic: true }), T("~6kb away", 3471, 1269, 64, 329));
  g.push(T("1 kb", 2679, 1361, 60, 114), L(2745, 1357, 3293, 1357, "#000", 8), L(2745, 1332, 2745, 1385, "#000", 5), L(3293, 1332, 3293, 1385, "#000", 5), T("hg19", 3375, 1359, 60, 137));
  g.push(T("chr17:", 2266, 1417, 60, 168));
  [[2498, 2610], [2773, 2886], [3048, 3161], [3324, 3437]].forEach(([x, tick], i) => {
    g.push(T(coordLabels[i], x, 1417, 60, 210), L(tick, 1390, tick, 1445, "#000", 3));
  });
  g.push(L(2350, 1373, 2350, 3196, "#FFB6C8", 3));
  g.push(T("Positive lasso motifs", 2076, 1481, 60, 538, { fill: "#3F87D0" }), T("Negative lasso motifs", 2058, 1539, 60, 569));
  g.push(T("5", 2302, 1592, 56, 27, { fill: MPRA_COL }), L(2335, 1594, 2350, 1594, MPRA_COL, 4));
  g.push(T("MPRA", 2228, 1718, 60, 159, { fill: MPRA_COL }), T("Z scores", 2210, 1796, 60, 217, { fill: MPRA_COL }));
  g.push(T("0", 2295, 1908, 56, 28, { fill: MPRA_COL }), L(2321, 1936, 2350, 1936, MPRA_COL, 4));
  g.push(T("CAGE elements", 2133, 1988, 60, 411), T("tested in the MPRA", 2085, 2065, 60, 509));
  g.push(T("20", 2286, 2142, 56, 61), L(2337, 2144, 2350, 2144, "#000", 4));
  g.push(T("Islet CAGE", 2193, 2242, 60, 269));
  g.push(T("-30", 2270, 2378, 56, 81, { fill: "#808080" }), L(2329, 2404, 2350, 2404, "#808080", 4));
  g.push(T("Islet TCs", 2239, 2434, 60, 214));
  [2999, 3028, 3057, 3086].forEach((x) => g.push({ ...P([[x + 13, 2425], [x, 2438], [x + 13, 2452]], "#fff", 7), z: 58 }));
  g.push(T("10", 2325, 2479, 43, 43, { fill: "#FF6600" }), T("Islet ATAC-seq", 2143, 2521, 60, 383, { fill: "#FF6600" }), T("0", 2335, 2600, 43, 21, { fill: "#FF6600" }));
  g.push(T("Islet ATAC-seq peaks", 2071, 2645, 60, 556));
  g.push(T("Islets", 2272, 2702, 60, 133), T("Skeletal Muscle", 2132, 2758, 60, 412), T("Adipose", 2230, 2818, 60, 216), T("Liver", 2275, 2875, 60, 127));
  g.push(T("Chromatin", 1722, 2770, 60, 282), T("states", 1722, 2815, 60, 150));
  g.push(P([[1942, 2675], [1893, 2675], [1893, 2911], [1942, 2911]]));
  g.push(T("5", 2294, 2933, 56, 23), L(2328, 2936, 2344, 2936, "#000", 4));
  g.push(T("Islet mRNA-seq", 2064, 3043, 60, 407), T("0", 2303, 3050, 56, 28), L(2333, 3053, 2348, 3053, "#000", 4));
  g.push(T("-5", 2278, 3170, 56, 47, { fill: "#808080" }), L(2321, 3196, 2352, 3196, "#808080", 4));

  // F legend
  g.push(T("Chromatin", 1785, 3311, 60, 226), T("States", 1834, 3387, 60, 129));
  const swatches = [[1909, 3234], [1909, 3323], [1909, 3409], [2411, 3234], [2411, 3319], [2411, 3408], [2856, 3232], [2856, 3322], [3370, 3230], [3370, 3313], [3370, 3407]];
  const labels = [[2084, 3266, 216], [2177, 3352, 401], [2184, 3440, 415], [2661, 3259, 341], [2645, 3347, 326], [2654, 3434, 329], [3139, 3260, 434], [3126, 3347, 407], [3657, 3260, 439], [3721, 3347, 569], [3667, 3442, 459]];
  legendNames.forEach((name, i) => {
    const isOpen = i === legendNames.length - 1;
    g.push({ type: "rect", z: 55, silent: true, shape: { x: swatches[i][0], y: swatches[i][1], width: 60, height: 56, r: 9 }, style: { fill: legendColors[i], stroke: isOpen ? "#000" : "none", lineWidth: 4 } });
    g.push(T(name, labels[i][0], labels[i][1], 58, labels[i][2]));
  });

  return {
    animation: false,
    backgroundColor: "#fff",
    textStyle: { fontFamily: FONT },
    tooltip: { show: false },
    grid,
    xAxis,
    yAxis,
    series,
    visualMap: [{ show: false, type: "continuous", min: 0, max: 1, seriesIndex: heatIndex, inRange: { color: ["#F2F2F2", "#000000"] } }],
    graphic: g,
  };
}

export default function App() {
  const ref = useRef<HTMLDivElement>(null);
  useEffect(() => {
    document.body.style.margin = "0";
    const chart = echarts.init(ref.current as HTMLDivElement, undefined, { renderer: "svg" });
    chart.setOption(buildOption() as any);
    return () => chart.dispose();
  }, []);
  return <div ref={ref} style={{ width: 4006, height: 3474, position: "absolute", left: 0, top: 0 }} />;
}
